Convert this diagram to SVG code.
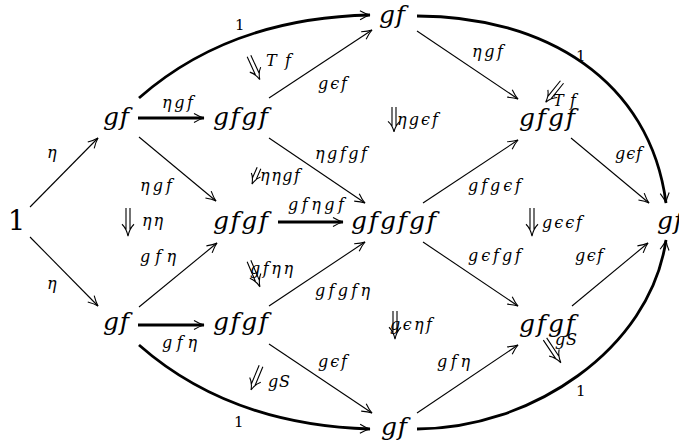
<svg xmlns="http://www.w3.org/2000/svg" xmlns:xlink="http://www.w3.org/1999/xlink" width="679" height="443" viewBox="0 0 679 443">
<style>
.n{font-family:"DejaVu Serif","Liberation Serif",serif;font-style:italic;font-size:25px;fill:#000}
.o{font-family:"DejaVu Serif","Liberation Serif",serif;font-size:27px;fill:#000}
.l{font-family:"DejaVu Serif","Liberation Serif",serif;font-style:italic;font-size:16px;fill:#000}
.u{font-family:"DejaVu Serif","Liberation Serif",serif;font-size:15px;fill:#000}
.e{fill:none;stroke:#000;stroke-width:1.1;marker-end:url(#ah)}
.t{fill:none;stroke:#000;stroke-width:2.8;marker-end:url(#ah)}
.d{fill:none;stroke:#000;stroke-width:1.1}
</style>
<defs>
<marker id="ah" viewBox="-11 -6 12 12" refX="0" refY="0" markerWidth="12" markerHeight="12" markerUnits="userSpaceOnUse" orient="auto">
<path d="M-10,-4.5 Q-4,-1 0,0 Q-4,1 -10,4.5" fill="none" stroke="#000" stroke-width="1.1"/>
</marker>
<path id="dd" class="d" d="M-2,0 V20 M2,0 V20 M-6,15 Q-1.5,19 0,26 M6,15 Q1.5,19 0,26"/>
<path id="ds" class="d" d="M-2,0 V11 M2,0 V11 M-5,7 Q-1.5,10 0,16 M5,7 Q1.5,10 0,16"/>
</defs>

<g id="connectors">
<path class="t" d="M139,98 Q230,18 370,15"/>
<path class="t" d="M417,16 C545,16 650,80 666,203"/>
<path class="t" d="M139,345 Q230,425 370,429"/>
<path class="t" d="M417,429 C530,429 650,350 666,240"/>
<path class="e" d="M30,207 L98,138"/>
<path class="e" d="M30,237 L98,306"/>
<path class="t" d="M138,118 L204,118"/>
<path class="e" d="M269,98 L372,30"/>
<path class="e" d="M417,31 L518,99"/>
<path class="e" d="M139,137 L216,201"/>
<path class="e" d="M139,307 L217,243"/>
<path class="t" d="M138,325 L204,325"/>
<path class="t" d="M278,222 L343,222"/>
<path class="e" d="M269,138 L365,203"/>
<path class="e" d="M269,306 L365,242"/>
<path class="e" d="M423,203 L518,140"/>
<path class="e" d="M423,242 L518,306"/>
<path class="e" d="M571,138 L649,203"/>
<path class="e" d="M572,306 L648,243"/>
<path class="e" d="M269,344 L372,413"/>
<path class="e" d="M417,413 L518,345"/>
<use xlink:href="#dd" transform="translate(249,56) rotate(-24.6)"/>
<use xlink:href="#dd" transform="translate(562,82) rotate(39)"/>
<use xlink:href="#dd" transform="translate(394,107) scale(1,0.96)"/>
<use xlink:href="#ds" transform="translate(259,168) rotate(23.6) scale(1,1.1)"/>
<use xlink:href="#dd" transform="translate(128,208) scale(1,1.08)"/>
<use xlink:href="#dd" transform="translate(249,261) rotate(-22.9) scale(1,1.08)"/>
<use xlink:href="#dd" transform="translate(261,366) rotate(22.6)"/>
<use xlink:href="#dd" transform="translate(395,311) scale(1,1.08)"/>
<use xlink:href="#dd" transform="translate(545,339) rotate(-33.7) scale(1,1.1)"/>
<use xlink:href="#dd" transform="translate(532,208) scale(1,1.08)"/>
<text class="l" x="47" y="158" textLength="10" lengthAdjust="spacing">η</text>
<text class="l" x="47" y="289" textLength="10" lengthAdjust="spacing">η</text>
<text class="l" x="162" y="108" textLength="31" lengthAdjust="spacing">ηgf</text>
<text class="l" x="140" y="191" textLength="32" lengthAdjust="spacing">ηgf</text>
<text class="l" x="142" y="226" textLength="21" lengthAdjust="spacing">ηη</text>
<text class="l" x="140" y="262" textLength="36" lengthAdjust="spacing">gfη</text>
<text class="l" x="162" y="348" textLength="35" lengthAdjust="spacing">gfη</text>
<text class="l" x="266" y="66" textLength="25" lengthAdjust="spacing">Tf</text>
<text class="l" x="318" y="89" textLength="29" lengthAdjust="spacing">gϵf</text>
<text class="l" x="315" y="159" textLength="52" lengthAdjust="spacing">ηgfgf</text>
<text class="l" x="260" y="181" textLength="40" lengthAdjust="spacing">ηηgf</text>
<text class="l" x="288" y="210" textLength="56" lengthAdjust="spacing">gfηgf</text>
<text class="l" x="250" y="274" textLength="43" lengthAdjust="spacing">gfηη</text>
<text class="l" x="315" y="296" textLength="55" lengthAdjust="spacing">gfgfη</text>
<text class="l" x="397" y="125" textLength="41" lengthAdjust="spacing">ηgϵf</text>
<text class="l" x="472" y="57" textLength="31" lengthAdjust="spacing">ηgf</text>
<text class="l" x="553" y="106" textLength="23" lengthAdjust="spacing">Tf</text>
<text class="l" x="615" y="159" textLength="27" lengthAdjust="spacing">gϵf</text>
<text class="l" x="468" y="191" textLength="53" lengthAdjust="spacing">gfgϵf</text>
<text class="l" x="542" y="228" textLength="40" lengthAdjust="spacing">gϵϵf</text>
<text class="l" x="468" y="261" textLength="53" lengthAdjust="spacing">gϵfgf</text>
<text class="l" x="575" y="261" textLength="28" lengthAdjust="spacing">gϵf</text>
<text class="l" x="390" y="330" textLength="42" lengthAdjust="spacing">gϵηf</text>
<text class="l" x="318" y="367" textLength="29" lengthAdjust="spacing">gϵf</text>
<text class="l" x="437" y="367" textLength="33" lengthAdjust="spacing">gfη</text>
<text class="l" x="268" y="387" textLength="22" lengthAdjust="spacing">gS</text>
<text class="l" x="555" y="345" textLength="22" lengthAdjust="spacing">gS</text>
<text class="u" x="235" y="30">1</text>
<text class="u" x="576" y="61">1</text>
<text class="u" x="234" y="427">1</text>
<text class="u" x="576" y="396">1</text>
</g>

<g id="n1"><text class="o" x="8" y="230">1</text></g>
<g id="n_gf_l1"><text class="n" x="103" y="125" textLength="26" lengthAdjust="spacing">gf</text></g>
<g id="n_gfgf_t"><text class="n" x="213" y="125" textLength="55" lengthAdjust="spacing">gfgf</text></g>
<g id="n_gf_top"><text class="n" x="379" y="23" textLength="26" lengthAdjust="spacing">gf</text></g>
<g id="n_gfgf_tr"><text class="n" x="519" y="126" textLength="56" lengthAdjust="spacing">gfgf</text></g>
<g id="n_gfgf_m"><text class="n" x="213" y="229" textLength="55" lengthAdjust="spacing">gfgf</text></g>
<g id="n_gfgfgf"><text class="n" x="351" y="229" textLength="85" lengthAdjust="spacing">gfgfgf</text></g>
<g id="n_gf_r"><text class="n" x="657" y="229" textLength="26" lengthAdjust="spacing">gf</text></g>
<g id="n_gf_bl"><text class="n" x="103" y="330" textLength="26" lengthAdjust="spacing">gf</text></g>
<g id="n_gfgf_b"><text class="n" x="213" y="330" textLength="55" lengthAdjust="spacing">gfgf</text></g>
<g id="n_gf_b"><text class="n" x="381" y="435" textLength="26" lengthAdjust="spacing">gf</text></g>
<g id="n_gfgf_br"><text class="n" x="519" y="332" textLength="56" lengthAdjust="spacing">gfgf</text></g>
</svg>
